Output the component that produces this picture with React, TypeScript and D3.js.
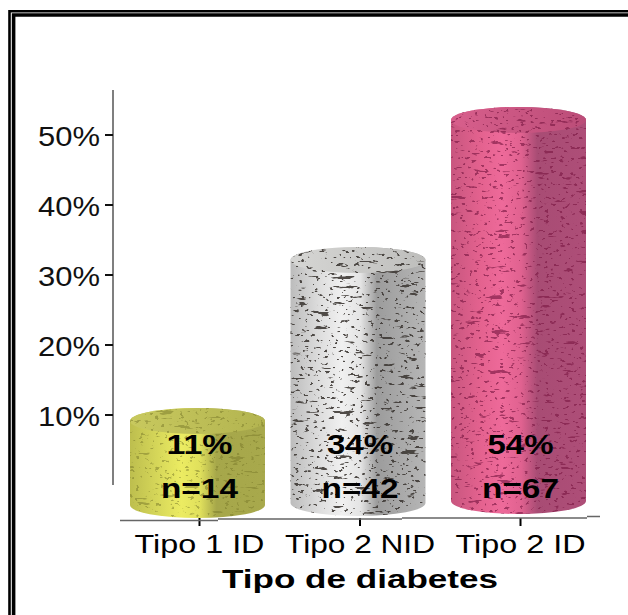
import React from "react";
import * as d3 from "d3";

const WIDTH = 628;
const HEIGHT = 615;

const categories = ["Tipo 1 ID", "Tipo 2 NID", "Tipo 2 ID"];
const percentages = [11, 34, 54];
const counts = [14, 42, 67];
const yTicks = [10, 20, 30, 40, 50];
const axisTitle = "Tipo de diabetes";

// body shading from left edge to right edge, cap shading, and speckle colour per cylinder
const palettes = [
  { stops: ["#bdbe4e", "#d8d95a", "#ecec62", "#e0e05c", "#a6a74a", "#a8a94c"], cap: ["#c8c95e", "#b3b450"], speck: "#7a7a2a", speckOpacity: 0.5 },
  { stops: ["#bcbcbc", "#dedede", "#f0f0f0", "#e4e4e4", "#9c9c9c", "#b6b6b6"], cap: ["#d6d6d4", "#bebebc"], speck: "#3f3a36", speckOpacity: 0.9 },
  { stops: ["#c8567f", "#e4628f", "#ee6a9a", "#e06290", "#a84c74", "#ae4e78"], cap: ["#d85f8c", "#bb4d78"], speck: "#7d1a45", speckOpacity: 0.65 },
];
const stopOffsets = ["0%", "22%", "38%", "52%", "64%", "100%"];

const y = d3.scaleLinear().domain([0, 50]).range([485, 135]);
const x = d3.scaleBand<string>().domain(categories).range([130, 586]).paddingInner(0.159).paddingOuter(0);

const RY = 13;
// the base line of the figure drifts upward slightly from left to right
const baseCenter = d3.scaleLinear().domain([0, 2]).range([505, 501]);

function cylinderOutline(cx: number, rx: number, topCenter: number, base: number) {
  return `M${cx - rx},${topCenter} L${cx - rx},${base} A${rx},${RY} 0 0 0 ${cx + rx},${base} L${cx + rx},${topCenter} A${rx},${RY} 0 0 0 ${cx - rx},${topCenter} Z`;
}

// Stone-like surface: many fine dots plus a sparser layer of long horizontal streaks
function Speckle({ id, seed, color }: { id: string; seed: number; color: string }) {
  const rgb = d3.rgb(color);
  const r = (rgb.r / 255).toFixed(3);
  const g = (rgb.g / 255).toFixed(3);
  const b = (rgb.b / 255).toFixed(3);
  return (
    <filter id={id} x="0" y="0" width="100%" height="100%" colorInterpolationFilters="sRGB">
      <feTurbulence type="fractalNoise" baseFrequency="0.2 0.3" numOctaves={2} seed={seed} result="fine" />
      <feColorMatrix in="fine" type="matrix" values={`0 0 0 0 ${r} 0 0 0 0 ${g} 0 0 0 0 ${b} -16 0 0 0 5.6`} result="dots" />
      <feTurbulence type="fractalNoise" baseFrequency="0.045 0.2" numOctaves={3} seed={seed + 11} result="coarse" />
      <feColorMatrix in="coarse" type="matrix" values={`0 0 0 0 ${r} 0 0 0 0 ${g} 0 0 0 0 ${b} -18 0 0 0 5.3`} result="streaks" />
      <feMerge result="all">
        <feMergeNode in="dots" />
        <feMergeNode in="streaks" />
      </feMerge>
      <feGaussianBlur in="all" stdDeviation={0.5} result="soft" />
      <feComposite in="soft" in2="SourceAlpha" operator="in" />
    </filter>
  );
}

export default function App() {
  const rx = x.bandwidth() / 2;
  return (
    <svg
      width={WIDTH}
      height={HEIGHT}
      viewBox={`0 0 ${WIDTH} ${HEIGHT}`}
      style={{ position: "absolute", left: 0, top: 0, background: "#fff", fontFamily: "'Liberation Sans', Arial, sans-serif" }}
    >
      <defs>
        {palettes.map((p, i) => (
          <React.Fragment key={i}>
            <linearGradient id={`shade${i}`} x1="0" x2="1" y1="0" y2="0">
              {p.stops.map((c, j) => (
                <stop key={j} offset={stopOffsets[j]} stopColor={c} />
              ))}
            </linearGradient>
            <linearGradient id={`cap${i}`} x1="0" x2="1" y1="0" y2="0">
              <stop offset="0%" stopColor={p.cap[0]} />
              <stop offset="100%" stopColor={p.cap[1]} />
            </linearGradient>
            <Speckle id={`speck${i}`} seed={3 + i * 4} color={p.speck} />
          </React.Fragment>
        ))}
      </defs>

      {/* double rule along the top and left, running off the page */}
      <path d="M9.5,615 V11.2 H628" fill="none" stroke="#000" strokeWidth={2.6} />
      <path d="M13.6,615 V15 H628" fill="none" stroke="#000" strokeWidth={3.6} />

      {/* value axis */}
      <line x1={113} x2={113} y1={90} y2={y(0)} stroke="#555" strokeWidth={1.5} />
      {yTicks.map((t) => (
        <g key={t}>
          <line x1={105} x2={113} y1={y(t)} y2={y(t)} stroke="#111" strokeWidth={2} />
          <text x={100} y={y(t) + 11} textAnchor="end" fontSize={27} fill="#111" textLength={62} lengthAdjust="spacingAndGlyphs">
            {t}%
          </text>
        </g>
      ))}

      {/* cylinders */}
      {categories.map((c, i) => {
        const cx = (x(c) as number) + rx;
        const topCenter = y(percentages[i]) + RY;
        const p = palettes[i];
        const outline = cylinderOutline(cx, rx, topCenter, baseCenter(i));
        return (
          <g key={c}>
            <path d={outline} fill={`url(#shade${i})`} />
            <path d={outline} fill="#000" filter={`url(#speck${i})`} opacity={p.speckOpacity} />
            <ellipse cx={cx} cy={topCenter} rx={rx} ry={RY} fill={`url(#cap${i})`} />
            <ellipse cx={cx} cy={topCenter} rx={rx} ry={RY} fill="#000" filter={`url(#speck${i})`} opacity={p.speckOpacity} />
            <text x={cx + 2} y={454} textAnchor="middle" fontSize={28} fontWeight="bold" fill="#000" textLength={66} lengthAdjust="spacingAndGlyphs">
              {percentages[i]}%
            </text>
            <text x={cx + 2} y={498} textAnchor="middle" fontSize={27} fontWeight="bold" fill="#000" textLength={77} lengthAdjust="spacingAndGlyphs">
              n={counts[i]}
            </text>
            <line x1={cx + 2} x2={cx + 2} y1={518} y2={526} stroke="#000" strokeWidth={2} />
            <text x={cx + 2} y={553} textAnchor="middle" fontSize={26} fill="#000" textLength={c === "Tipo 2 NID" ? 150 : 130} lengthAdjust="spacingAndGlyphs">
              {c}
            </text>
          </g>
        );
      })}

      {/* category axis, stepping up slightly from left to right */}
      <path d="M120,520.5 H218 M218,519 H402 M402,518 H587 M587,516.5 H600" fill="none" stroke="#666" strokeWidth={1.5} />

      <text x={360} y={588} textAnchor="middle" fontSize={25} fontWeight="bold" fill="#000" textLength={276} lengthAdjust="spacingAndGlyphs">
        {axisTitle}
      </text>
    </svg>
  );
}
